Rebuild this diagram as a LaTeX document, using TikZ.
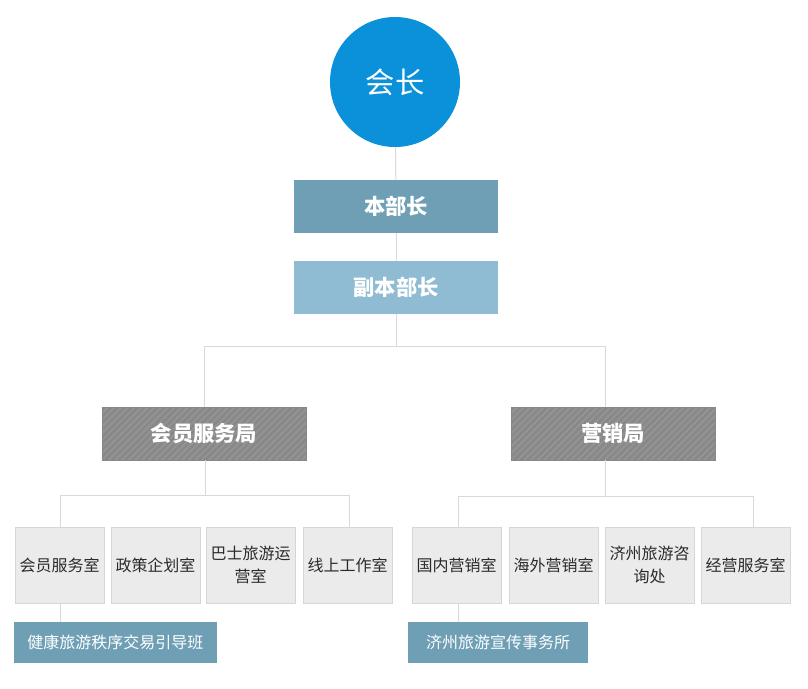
\documentclass[tikz,border=0pt]{standalone}
\usepackage{fontspec}
\newfontfamily\cjk{Noto Sans CJK SC}
\definecolor{blueC}{HTML}{0A91D9}
\definecolor{headA}{HTML}{6F9FB5}
\definecolor{headB}{HTML}{8FBCD3}
\definecolor{grayB}{HTML}{888888}
\definecolor{grayH}{HTML}{939393}
\definecolor{cellF}{HTML}{EBEBEB}
\definecolor{cellD}{HTML}{D6D6D6}
\definecolor{lineC}{HTML}{D9D9D9}
\definecolor{txt}{HTML}{2A2A2A}
\begin{document}
\begin{tikzpicture}[x=0.75pt,y=-0.75pt,
  every node/.style={font=\cjk, inner sep=0pt},
  headbox/.style={rectangle, minimum width=153pt, minimum height=39.75pt, text=white, font=\cjk\bfseries\fontsize{16}{18}\selectfont},
  hatchbox/.style={headbox, fill=grayB, draw=grayB, line width=0.6pt, path picture={
      \foreach \k in {-60,-55,...,160} {
        \draw[grayH, line width=1.5pt] ([xshift=\k pt-20pt, yshift=-20pt]path picture bounding box.south west) -- ++(45:140pt);
      }}},
  cell/.style={rectangle, fill=cellF, draw=cellD, line width=0.75pt, minimum width=66.75pt, minimum height=57pt, text=txt, align=center, font=\cjk\fontsize{12}{17}\selectfont},
  subbox/.style={rectangle, fill=headA, minimum height=30.75pt, text=white, font=\cjk\fontsize{12}{14}\selectfont},
  conn/.style={draw=lineC, line width=0.75pt}]
\useasboundingbox[fill=white] (0,0) rectangle (808,689);
\coordinate (busL) at (204,346);
\coordinate (busR) at (605,346);
\coordinate (dropR) at (605,407);
\coordinate (lbL) at (60,495);
\coordinate (lbR) at (349,495);
\coordinate (rbL) at (458,496);
\coordinate (rbR) at (753,496);
\coordinate (rtop) at (605,460);
\coordinate (ltop) at (205,460);
% nodes
\node[circle, fill=blueC, minimum size=97.5pt, text=white, font=\cjk\fontsize{22}{24}\selectfont] (pres) at (395,82) {会长};
\node[headbox, fill=headA] (dept) at (396,206.5) {本部长};
\node[headbox, fill=headB] (vdept) at (396,287.5) {副本部长};
\node[hatchbox] (member) at (204,433.5) {会员服务局};
\node[hatchbox] (market) at (613,433.5) {营销局};
\node[cell] (c1) at (59.5,565) {会员服务室};
\node[cell] (c2) at (155.5,565) {政策企划室};
\node[cell] (c3) at (250.5,565) {巴士旅游运\\营室};
\node[cell] (c4) at (347.5,565) {线上工作室};
\node[cell] (c5) at (456.5,565) {国内营销室};
\node[cell] (c6) at (553.5,565) {海外营销室};
\node[cell] (c7) at (649.5,565) {济州旅游咨\\询处};
\node[cell] (c8) at (745.5,565) {经营服务室};
\node[subbox, minimum width=152.25pt] (s1) at (115.5,642.5) {健康旅游秩序交易引导班};
\node[subbox, minimum width=135pt] (s2) at (498,642.5) {济州旅游宣传事务所};
% connectors
\draw[conn] (pres) -- (dept);
\draw[conn] (dept) -- (vdept);
\draw[conn] (vdept.south) -- (vdept.south |- busL) (busL) -- (busR);
\draw[conn] (busL) -- (member.north);
\draw[conn] (busR) -- (dropR);
\draw[conn] (ltop) -- (ltop |- lbL) (lbL) -- (lbR);
\draw[conn] (lbL) -- (lbL |- c1.north);
\draw[conn] (lbR) -- (lbR |- c4.north);
\draw[conn] (rtop) -- (rtop |- rbL) (rbL) -- (rbR);
\draw[conn] (rbL) -- (rbL |- c5.north);
\draw[conn] (rbR) -- (rbR |- c8.north);
\draw[conn] (c1.south -| lbL) -- (s1.north -| lbL);
\draw[conn] (c5.south -| rbL) -- (s2.north -| rbL);
\end{tikzpicture}
\end{document}
